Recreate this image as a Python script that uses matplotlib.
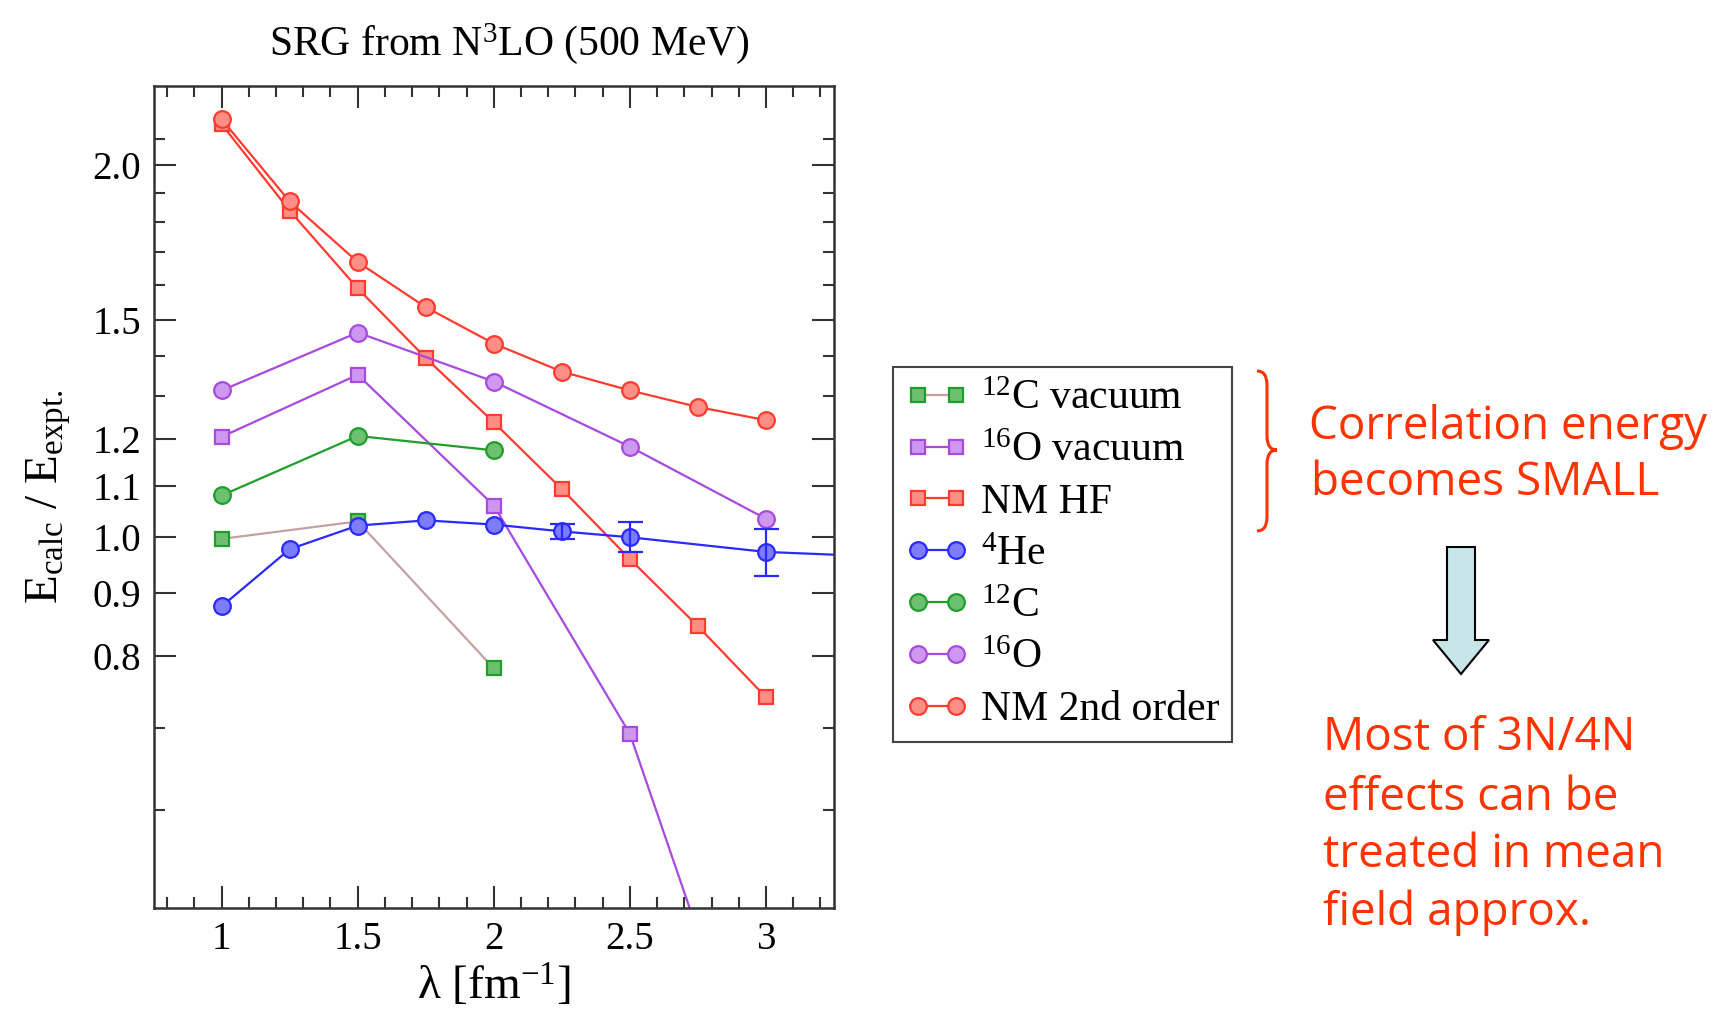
import numpy as np
import matplotlib
matplotlib.use("Agg")
import matplotlib.pyplot as plt
from matplotlib.path import Path
from matplotlib.patches import PathPatch, Polygon
from matplotlib.ticker import FixedLocator, NullFormatter

plt.rcParams['font.family'] = ['Liberation Serif', 'DejaVu Serif']
plt.rcParams['mathtext.fontset'] = 'custom'
plt.rcParams['mathtext.rm'] = 'Liberation Serif'
plt.rcParams['mathtext.it'] = 'Liberation Serif:italic'

# data
lam = [1.0, 1.25, 1.5, 1.75, 2.0, 2.25, 2.5, 2.75, 3.0]
nm2_y = [2.18, 1.87, 1.67, 1.535, 1.434, 1.361, 1.314, 1.274, 1.243]
nmhf_y = [2.16, 1.838, 1.59, 1.396, 1.238, 1.093, 0.959, 0.846, 0.741]

lam5 = [1.0, 1.5, 2.0, 2.5, 3.0]
o16_y = [1.314, 1.464, 1.336, 1.183, 1.034]
o16vac_y = [1.205, 1.353, 1.06, 0.692, 0.33]

lam3 = [1.0, 1.5, 2.0]
c12_y = [1.08, 1.207, 1.175]
c12vac_y = [0.996, 1.029, 0.782]

he_x = [1.0, 1.25, 1.5, 1.75, 2.0, 2.25, 2.5, 3.0, 3.5]
he_y = [0.878, 0.977, 1.021, 1.031, 1.023, 1.010, 0.999, 0.972, 0.962]
he_err = [0, 0, 0, 0, 0, 0.014, 0.028, 0.042, 0]

RED = '#ff3b30'
PURPLE = '#a84ae0'
GREEN = '#1e9e2a'
BLUE = '#2a2aff'
BROWN = '#c4a2a2'

fig = plt.figure(figsize=(17.33, 10.23), dpi=100)
ax = fig.add_axes([0.0886, 0.1124, 0.3927, 0.8036])


def series(x, y, col, mk, label, lcol=None, fcol=None):
    ax.plot(x, y, color=lcol or col, lw=1.6, marker=mk, ms=12 if mk == 'o' else 10.5,
            mfc=fcol, mec=col, mew=1.6, label=label)


series(lam3, c12vac_y, GREEN, 's', r'$^{12}$C vacuum', lcol=BROWN, fcol='#6cc070')
series(lam5, o16vac_y, PURPLE, 's', r'$^{16}$O vacuum', fcol='#cf98f0')
series(lam, nmhf_y, RED, 's', 'NM HF', fcol='#ff8f86')
series(he_x, he_y, BLUE, 'o', r'$^4$He', fcol='#7c7cff')
series(lam3, c12_y, GREEN, 'o', r'$^{12}$C', fcol='#6cc070')
series(lam5, o16_y, PURPLE, 'o', r'$^{16}$O', fcol='#cf98f0')
series(lam, nm2_y, RED, 'o', 'NM 2nd order', fcol='#ff8f86')

he_x_a = np.array(he_x)
he_y_a = np.array(he_y)
he_e_a = np.array(he_err)
m = he_e_a > 0
ax.errorbar(he_x_a[m], he_y_a[m], yerr=he_e_a[m], fmt='none', ecolor=BLUE,
            elinewidth=1.6, capsize=9, capthick=1.6)

ax.set_yscale('log')
ax.set_xlim(0.75, 3.25)
ax.set_ylim(0.5, 2.32)

ax.yaxis.set_major_locator(FixedLocator([0.8, 0.9, 1.0, 1.1, 1.2, 1.5, 2.0]))
ax.yaxis.set_minor_locator(FixedLocator([0.6, 0.7, 1.3, 1.4, 1.6, 1.7, 1.8, 1.9, 2.1]))
ax.yaxis.set_minor_formatter(NullFormatter())
ax.set_yticklabels(['0.8', '0.9', '1.0', '1.1', '1.2', '1.5', '2.0'])
ax.xaxis.set_major_locator(FixedLocator([1, 1.5, 2, 2.5, 3]))
ax.xaxis.set_minor_locator(FixedLocator(np.arange(0.8, 3.25, 0.1)))
ax.set_xticklabels(['1', '1.5', '2', '2.5', '3'])

ax.tick_params(which='both', direction='in', top=True, right=True, width=1.5,
               color='#333333', labelsize=28)
ax.tick_params(which='major', length=16, pad=9)
ax.tick_params(which='minor', length=8)
for sp in ax.spines.values():
    sp.set_linewidth(1.8)
    sp.set_color('#333333')

ax.set_title(r'SRG from N$^3$LO (500 MeV)', fontsize=30, pad=22, x=0.523)
ax.set_xlabel(r'λ [fm$^{-1}$]', fontsize=34, labelpad=4)
ax.set_ylabel(r'E$_{\rm calc}$ / E$_{\rm expt.}$', fontsize=34, labelpad=14)

leg = fig.legend(loc='upper left', bbox_to_anchor=(0.5153, 0.641), fontsize=30,
                 numpoints=2, handlelength=1.5, labelspacing=0.32, handletextpad=0.3,
                 borderpad=0.3, borderaxespad=0, fancybox=False, framealpha=1,
                 edgecolor='#444444')
leg.get_frame().set_linewidth(1.5)

# annotations on the right
W, H = 1733.0, 1023.0


def fx(px):
    return px / W


def fy(py):
    return 1 - py / H


ann = ['Open Sans', 'DejaVu Sans']
ORANGE = '#ff3300'
fig.text(fx(1309), fy(427), 'Correlation energy', fontsize=33, color=ORANGE,
         family=ann, va='center', ha='left')
fig.text(fx(1311), fy(483), 'becomes SMALL', fontsize=33, color=ORANGE,
         family=ann, va='center', ha='left')
lines = ['Most of 3N/4N', 'effects can be', 'treated in mean', 'field approx.']
ys = [738, 798, 855, 913]
for t, yy in zip(lines, ys):
    fig.text(fx(1323), fy(yy), t, fontsize=33, color=ORANGE, family=ann,
             va='center', ha='left')

# curly brace
bx0, bx1, bt, bb, bm = 1257, 1277, 371, 531, 450
bxm = 1267
verts = [(bx0, bt), (bxm, bt), (bxm, bt + 14), (bxm, bm - 14), (bxm, bm), (bx1, bm),
         (bxm, bm), (bxm, bm + 14), (bxm, bb - 14), (bxm, bb), (bx0, bb)]
codes = [Path.MOVETO, Path.CURVE3, Path.CURVE3, Path.LINETO, Path.CURVE3, Path.CURVE3,
         Path.CURVE3, Path.CURVE3, Path.LINETO, Path.CURVE3, Path.CURVE3]
brace = Path([(fx(a), fy(b)) for a, b in verts], codes)
fig.patches.append(PathPatch(brace, transform=fig.transFigure, fill=False,
                             edgecolor=ORANGE, lw=2.2))

# block arrow
arr = [(1447, 547), (1475, 547), (1475, 640), (1489, 640), (1461, 674),
       (1433, 640), (1447, 640)]
fig.patches.append(Polygon([(fx(a), fy(b)) for a, b in arr], closed=True,
                           transform=fig.transFigure, facecolor='#c8e6e8',
                           edgecolor='black', lw=1.5))

fig.savefig('out.png', dpi=100)
